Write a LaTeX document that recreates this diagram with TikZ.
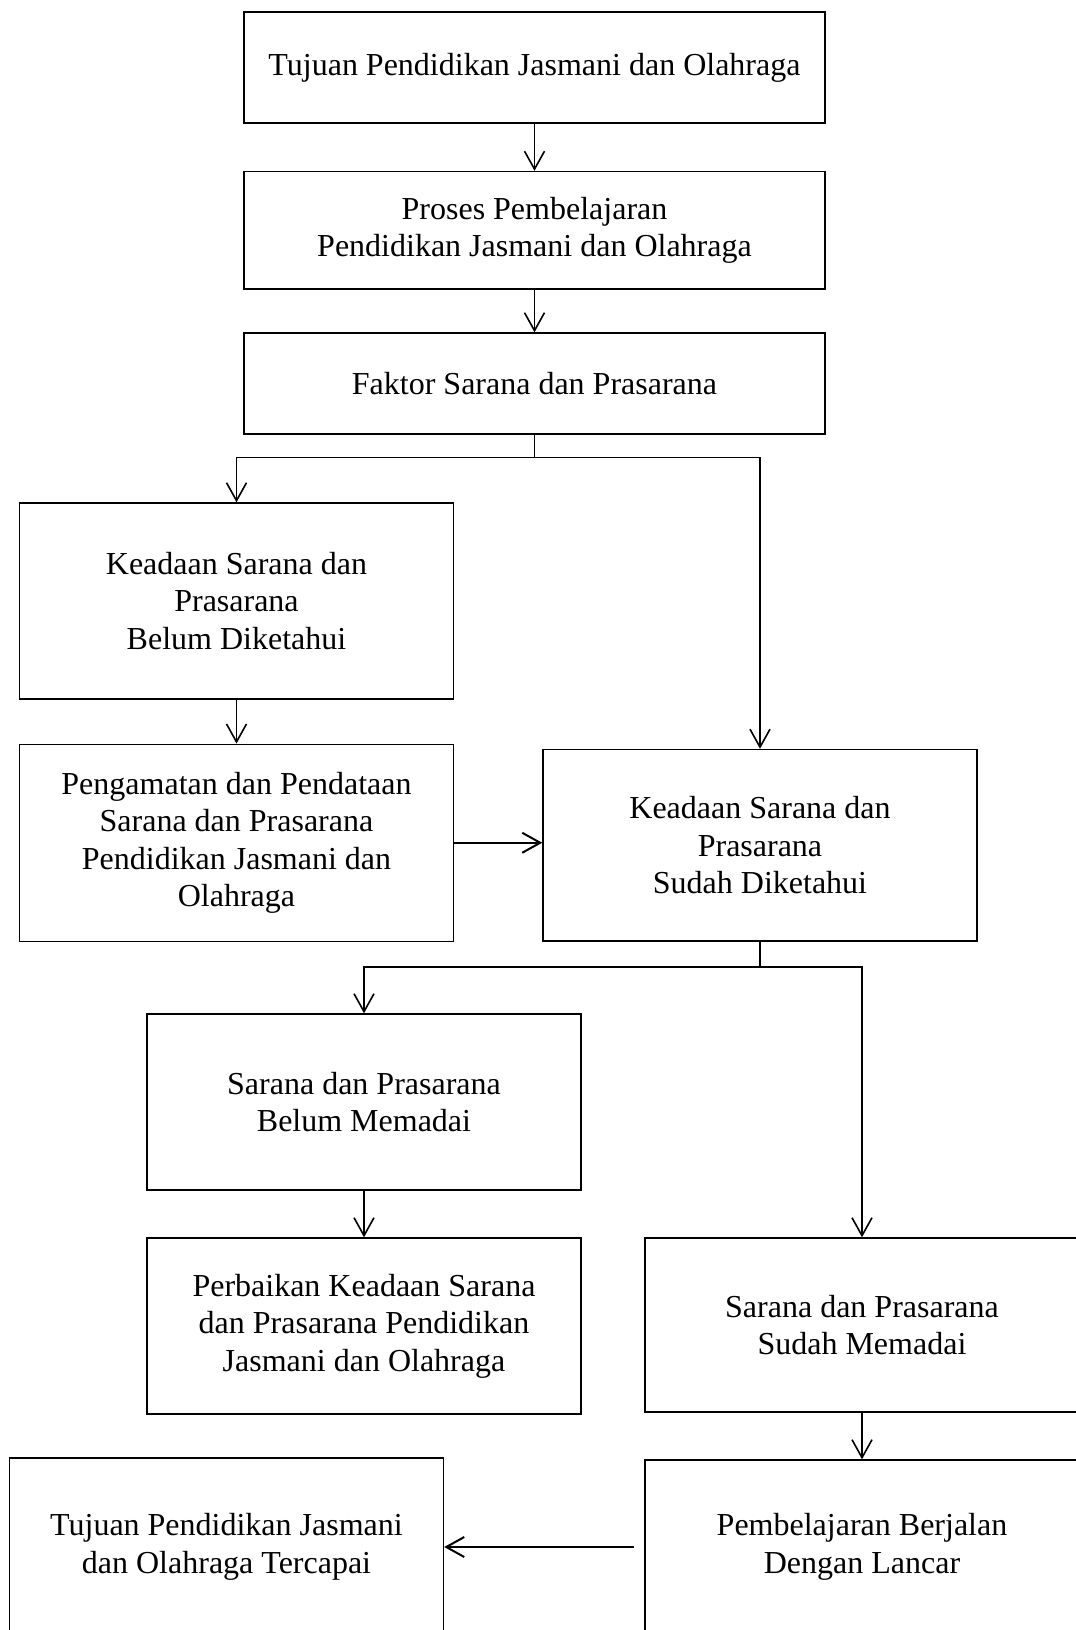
\documentclass[tikz,border=0pt]{standalone}
\usepackage{fontspec}
\setmainfont{Liberation Serif}
\usetikzlibrary{arrows.meta}

\begin{document}
\begin{tikzpicture}[
x=0.5pt,
y=-0.5pt,
>={Straight Barb[length=9pt,width=10pt]},
kotak/.style={
	draw,
	line width=0.7pt,
	align=center,
	inner sep=0pt,
	font=\fontsize{16}{18.7}\selectfont
},
lebar/.style={
	kotak,
	minimum width=290.5pt
},
sempit/.style={
	kotak,
	minimum width=217pt
},
alur/.style={
	->,
	line width=0.8pt
},
alurtebal/.style={
	->,
	line width=1pt
}
]
\clip (0,0) rectangle (1076,1630);
\fill[white] (0,0) rectangle (1076,1630);

\node[lebar,minimum height=55.5pt] (k1) at (534.5,67.5) {Tujuan Pendidikan Jasmani dan Olahraga};
\node[lebar,minimum height=58.75pt] (k2) at (534.5,230.25) {Proses Pembelajaran\\Pendidikan Jasmani dan Olahraga};
\node[lebar,minimum height=50.5pt] (k3) at (534.5,383.5) {Faktor Sarana dan Prasarana};

\node[sempit,minimum height=98pt] (k4) at (236.5,601) {Keadaan Sarana dan\\Prasarana\\Belum Diketahui};
\node[sempit,minimum height=98.5pt] (k5) at (236.5,842.75) {Pengamatan dan Pendataan\\Sarana dan Prasarana\\Pendidikan Jasmani dan\\Olahraga};
\node[sempit,minimum height=95.75pt] (k6) at (760,845.25) {Keadaan Sarana dan\\Prasarana\\Sudah Diketahui};

\node[sempit,minimum height=88pt] (k7) at (364,1102) {Sarana dan Prasarana\\Belum Memadai};
\node[sempit,minimum height=88pt] (k8) at (364,1326) {Perbaikan Keadaan Sarana\\dan Prasarana Pendidikan\\Jasmani dan Olahraga};
\node[sempit,minimum height=87pt] (k9) at (862,1325) {Sarana dan Prasarana\\Sudah Memadai};

\node[sempit,minimum height=89pt] (k10) at (226.5,1547) {Tujuan Pendidikan Jasmani\\dan Olahraga Tercapai};
\node[sempit,minimum height=87pt] (k11) at (862,1547) {Pembelajaran Berjalan\\Dengan Lancar};

\coordinate (c1) at (534.5,457.5);
\coordinate (c2) at (760,967);

\draw[alur] (k1) -- (k2);
\draw[alur] (k2) -- (k3);
\draw[alur] (k3.south) -- (c1) -| (k4.north);
\draw[alur] (c1) -| (k6.north);
\draw[alur] (k4) -- (k5);
\draw[alurtebal] (k5.east) -- (k5.east -| k6.west);
\draw[alur] (k6.south) -- (c2) -| (k7.north);
\draw[alur] (c2) -| (k9.north);
\draw[alur] (k7) -- (k8);
\draw[alur] (k9) -- (k11);
\draw[alurtebal,shorten <=5pt] (k11.west) -- (k10.east);
\end{tikzpicture}
\end{document}
